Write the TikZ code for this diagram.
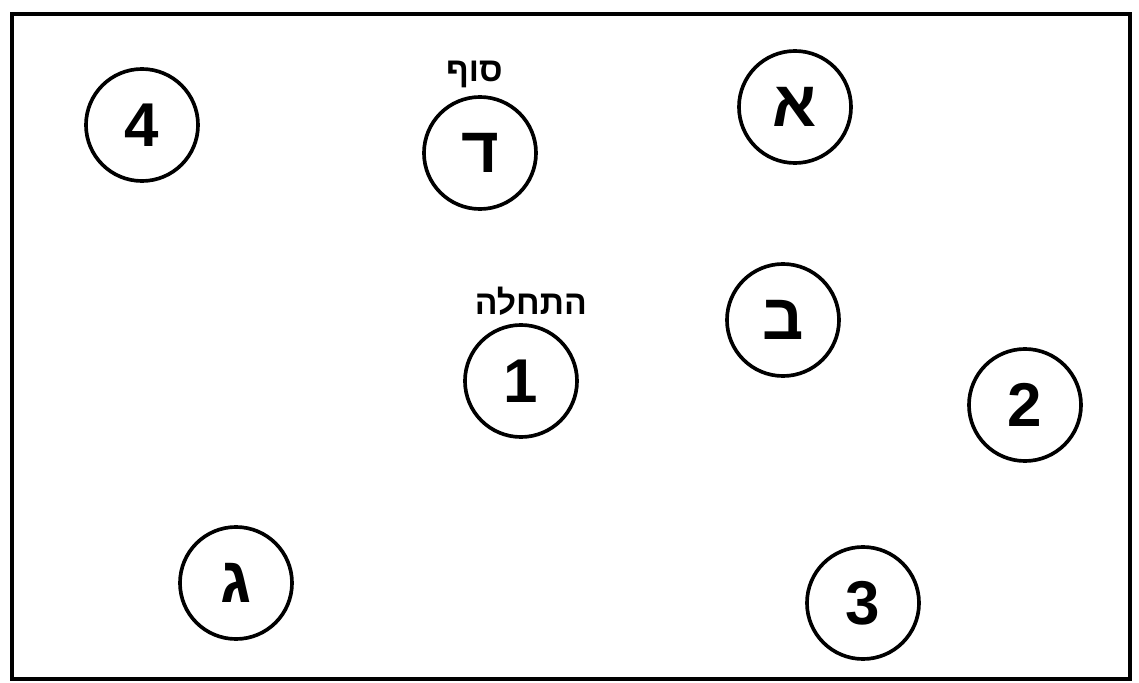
\documentclass[tikz,border=0pt]{standalone}
\usepackage{fontspec}
\setmainfont{Liberation Sans}
\newfontfamily\hebfont[Script=Hebrew]{Liberation Sans}
\newfontfamily\hebbold[Script=Hebrew]{Liberation Sans Bold}
\TeXXeTstate=1
\usetikzlibrary{positioning}
\tikzset{
  spot/.style={draw, circle, line width=2.6pt, minimum size=2.8cm, inner sep=0pt,
               font=\fontsize{44}{44}\selectfont\bfseries},
  hspot/.style={spot, font=\hebbold\fontsize{46}{46}\selectfont},
  tag/.style={font=\hebbold\fontsize{24}{24}\selectfont, inner sep=1pt},
  frame/.style={line width=2.4pt},
}
\begin{document}
\begin{tikzpicture}[x=0.025cm, y=-0.025cm]
  \useasboundingbox (0,0) rectangle (1139,683);
  \draw[frame] (12,14) rectangle (1130,679);
  % numbered spots
  \node[spot] (n4) at (142,125) {4};
  \node[spot] (n1) at (521,381) {1};
  \node[spot] (n2) at (1025,405) {2};
  \node[spot] (n3) at (863,603) {3};
  % lettered spots
  \node[hspot] (alef) at (795,107) {\beginR א\endR};
  \node[hspot] (bet) at (783,320) {\beginR ב\endR};
  \node[hspot] (gimel) at (236,583) {\beginR ג\endR};
  \node[hspot] (dalet) at (480,153) {\beginR ד\endR};
  % start / end labels
  \node[tag, above=4pt of dalet, xshift=-4pt] (sof) {\beginR סוף\endR};
  \node[tag, above=4pt of n1, xshift=7pt] (start) {\beginR התחלה\endR};
\end{tikzpicture}
\end{document}
